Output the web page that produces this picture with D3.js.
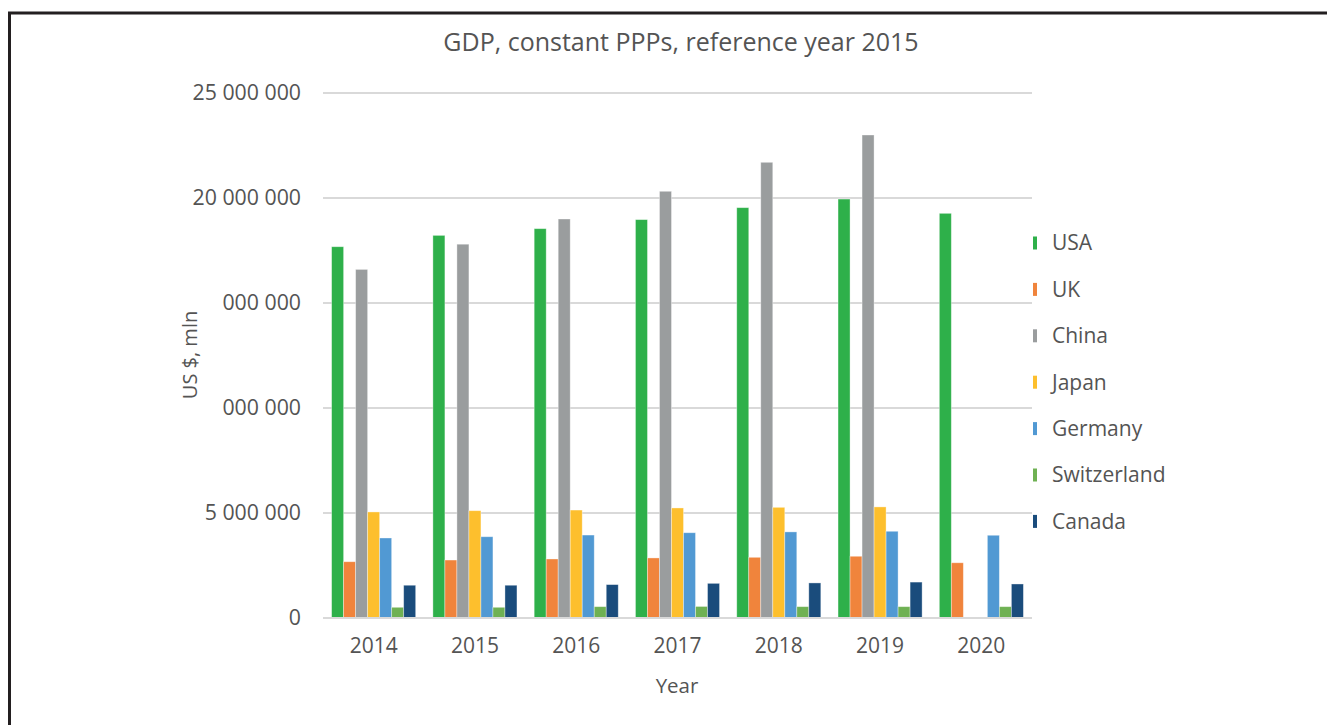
<!DOCTYPE html>
<html>
<head>
<meta charset="utf-8">
<script src="https://cdn.jsdelivr.net/npm/d3@7"></script>
<style>
  html, body { margin: 0; padding: 0; background: #fff; }
  svg { display: block; }
  text { font-family: "Open Sans", "Noto Sans", sans-serif; fill: #545454; }
</style>
</head>
<body>
<svg id="chart" width="1327" height="725"></svg>
<script>
const years = ["2014", "2015", "2016", "2017", "2018", "2019", "2020"];
const countries = ["USA", "UK", "China", "Japan", "Germany", "Switzerland", "Canada"];
const colors = ["#2eb04a", "#f0843c", "#9a9d9e", "#fdbf2d", "#5199d3", "#6fb153", "#1a4c7c"];
const USA = [17680000, 18220000, 18540000, 18970000, 19540000, 19950000, 19270000];
const UK = [2680000, 2760000, 2810000, 2860000, 2890000, 2940000, 2630000];
const China = [16600000, 17800000, 19000000, 20320000, 21700000, 23000000, null];
const Japan = [5050000, 5110000, 5140000, 5240000, 5270000, 5290000, null];
const Germany = [3810000, 3870000, 3950000, 4060000, 4100000, 4130000, 3940000];
const Switzerland = [510000, 510000, 540000, 550000, 540000, 540000, 540000];
const Canada = [1560000, 1560000, 1590000, 1650000, 1670000, 1710000, 1620000];
const seriesValues = [USA, UK, China, Japan, Germany, Switzerland, Canada];
const yTicks = [0, 5000000, 10000000, 15000000, 20000000, 25000000];
const yTickLabels = ["0", "5 000 000", "000 000", "000 000", "20 000 000", "25 000 000"];
const title = "GDP, constant PPPs, reference year 2015";
const yTitle = "US $, mln";
const xTitle = "Year";

const svg = d3.select("#chart");

// frame
svg.append("path")
  .attr("d", "M9.5,725 L9.5,13 L1327,13")
  .attr("fill", "none").attr("stroke", "#231f20").attr("stroke-width", 3);

const pLeft = 323, pRight = 1032, pTop = 93, pBottom = 618;

const x0 = d3.scaleBand().domain(years).range([pLeft, pRight]).paddingInner(0.17).paddingOuter(0.085);
const x1 = d3.scaleBand().domain(countries).range([0, x0.bandwidth()]).padding(0);
const y = d3.scaleLinear().domain([0, 25000000]).range([pBottom, pTop]);

// gridlines
svg.append("g").selectAll("line").data(yTicks).join("line")
  .attr("x1", pLeft).attr("x2", pRight)
  .attr("y1", d => y(d)).attr("y2", d => y(d))
  .attr("stroke", "#d9d9d9").attr("stroke-width", 2);

// y axis labels
const yAxis = d3.axisLeft(y).tickValues(yTicks).tickSize(0).tickPadding(22)
  .tickFormat((d, i) => yTickLabels[i]);
const yg = svg.append("g").attr("transform", `translate(${pLeft},0)`).call(yAxis);
yg.select(".domain").remove();
yg.selectAll("text").style("font-size", "21.3px").attr("fill", "#545454")
  .style("font-family", '"Open Sans", sans-serif');

// x axis labels
const xAxis = d3.axisBottom(x0).tickSize(0).tickPadding(20);
const xg = svg.append("g").attr("transform", `translate(0,${pBottom})`).call(xAxis);
xg.select(".domain").remove();
xg.selectAll("text").style("font-size", "21px").attr("fill", "#545454")
  .style("font-family", '"Open Sans", sans-serif');

// bars
const groups = svg.append("g").selectAll("g").data(years).join("g")
  .attr("transform", d => `translate(${x0(d)},0)`);
groups.selectAll("rect")
  .data((yr, yi) => countries.map((c, ci) => ({ c, ci, v: seriesValues[ci][yi] })).filter(d => d.v != null))
  .join("rect")
  .attr("x", d => x1(d.c))
  .attr("width", x1.bandwidth())
  .attr("y", d => y(d.v))
  .attr("height", d => pBottom - y(d.v))
  .attr("fill", d => colors[d.ci])
  .attr("stroke", "rgba(255,255,255,0.45)")
  .attr("stroke-width", 0.8);

// baseline
svg.append("line").attr("x1", pLeft).attr("x2", pRight).attr("y1", pBottom).attr("y2", pBottom)
  .attr("stroke", "#d9d9d9").attr("stroke-width", 2);

// title
svg.append("text").attr("x", 681).attr("y", 51).attr("text-anchor", "middle")
  .style("font-size", "25px").text(title);

// y title
svg.append("text").attr("transform", "translate(197,355) rotate(-90)")
  .attr("text-anchor", "middle").style("font-size", "20px").text(yTitle);

// x title
svg.append("text").attr("x", 677).attr("y", 693).attr("text-anchor", "middle")
  .style("font-size", "20.5px").text(xTitle);

// legend
const legend = svg.append("g").selectAll("g").data(countries).join("g")
  .attr("transform", (d, i) => `translate(1033,${243 + i * 46.4})`);
legend.append("rect").attr("x", 0).attr("y", -6.5).attr("width", 4).attr("height", 13)
  .attr("fill", (d, i) => colors[i]);
legend.append("text").attr("x", 19).attr("y", 0).attr("dy", "0.35em")
  .style("font-size", "21px").text(d => d);
</script>
</body>
</html>
